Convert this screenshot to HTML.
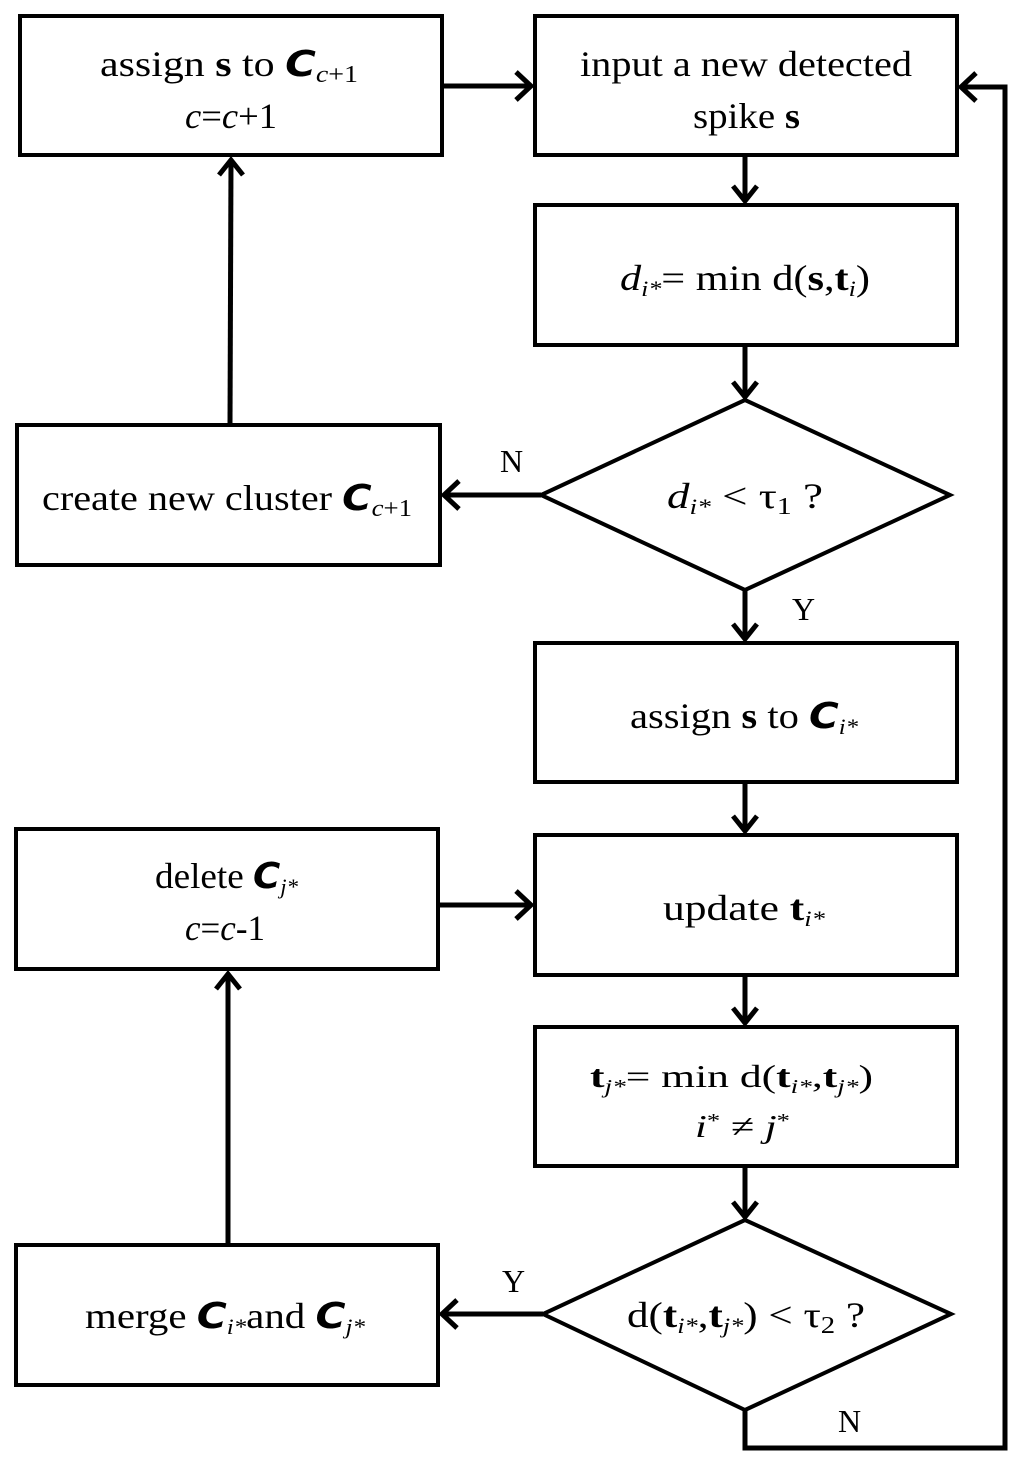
<!DOCTYPE html>
<html><head><meta charset="utf-8"><style>html,body{margin:0;padding:0;background:#fff}svg{display:block}</style></head><body>
<svg width="1024" height="1468" viewBox="0 0 1024 1468" xmlns="http://www.w3.org/2000/svg" font-family="Liberation Serif, serif" font-size="36" fill="#000">
<defs>
<marker id="ah" markerWidth="12" markerHeight="12" refX="10" refY="6" orient="auto" markerUnits="userSpaceOnUse" viewBox="0 0 12 12">
</marker>
</defs>
<g fill="#fff" stroke="#000" stroke-width="4">
<rect x="20" y="16" width="422" height="139"/>
<rect x="535" y="16" width="422" height="139"/>
<rect x="535" y="205" width="422" height="140"/>
<polygon points="745,400 950,495 745,590 541,495"/>
<rect x="17" y="425" width="423" height="140"/>
<rect x="535" y="643" width="422" height="139"/>
<rect x="535" y="835" width="422" height="140"/>
<rect x="16" y="829" width="422" height="140"/>
<rect x="535" y="1027" width="422" height="139"/>
<polygon points="745,1220 951,1314 745,1410 543,1314"/>
<rect x="16" y="1245" width="422" height="140"/>
</g>
<g stroke="#000" stroke-width="5" fill="none" stroke-linejoin="miter">
<!-- A -> B -->
<line x1="442" y1="86" x2="530" y2="86"/><polyline points="516,72 531,86 516,100"/>
<!-- B -> C -->
<line x1="745" y1="155" x2="745" y2="200"/><polyline points="733,186 745,201 757,186"/>
<!-- C -> D1 -->
<line x1="745" y1="345" x2="745" y2="396"/><polyline points="733,382 745,397 757,382"/>
<!-- D1 -> create -->
<line x1="541" y1="495" x2="445" y2="495"/><polyline points="459,481 444,495 459,509"/>
<!-- create -> A -->
<line x1="230" y1="425" x2="231" y2="160"/><polyline points="219,175 231,160 243,175"/>
<!-- D1 -> E -->
<line x1="745" y1="590" x2="745" y2="638"/><polyline points="733,624 745,639 757,624"/>
<!-- E -> F -->
<line x1="745" y1="782" x2="745" y2="830"/><polyline points="733,816 745,831 757,816"/>
<!-- G -> F -->
<line x1="438" y1="905" x2="530" y2="905"/><polyline points="516,891 531,905 516,919"/>
<!-- F -> H -->
<line x1="745" y1="975" x2="745" y2="1022"/><polyline points="733,1008 745,1023 757,1008"/>
<!-- H -> D2 -->
<line x1="745" y1="1166" x2="745" y2="1216"/><polyline points="733,1202 745,1217 757,1202"/>
<!-- D2 -> merge -->
<line x1="543" y1="1314" x2="443" y2="1314"/><polyline points="457,1300 442,1314 457,1328"/>
<!-- merge -> G -->
<line x1="228" y1="1245" x2="228" y2="974"/><polyline points="216,989 228,974 240,989"/>
<!-- feedback -->
<polyline points="745,1410 745,1448 1005,1448 1005,87 962,87"/><polyline points="976,73 961,87 976,101"/>
</g>
<g text-anchor="start">
<text x="100" y="76" textLength="258" lengthAdjust="spacingAndGlyphs">assign <tspan font-weight="bold">s</tspan> to <tspan font-style="italic" font-weight="bold" font-family="DejaVu Sans, sans-serif">C</tspan><tspan font-size="24" dy="6" font-style="italic">c</tspan><tspan font-size="24">+1</tspan></text>
<text x="185" y="128" textLength="92" lengthAdjust="spacingAndGlyphs"><tspan font-style="italic">c</tspan>=<tspan font-style="italic">c</tspan>+1</text>
<text x="580" y="76" textLength="332" lengthAdjust="spacingAndGlyphs">input a  new detected</text>
<text x="693" y="128" textLength="107" lengthAdjust="spacingAndGlyphs">spike <tspan font-weight="bold">s</tspan></text>
<text x="620" y="290" textLength="250" lengthAdjust="spacingAndGlyphs"><tspan font-style="italic">d</tspan><tspan font-size="22" dy="6" font-style="italic">i*</tspan><tspan dy="-6">= min d(</tspan><tspan font-weight="bold">s</tspan>,<tspan font-weight="bold">t</tspan><tspan font-size="22" dy="6" font-style="italic">i</tspan><tspan dy="-6">)</tspan></text>
<text x="667" y="508" textLength="156" lengthAdjust="spacingAndGlyphs"><tspan font-style="italic">d</tspan><tspan font-size="22" dy="6" font-style="italic">i*</tspan><tspan dy="-6"> &lt; τ</tspan><tspan font-size="24" dy="6">1</tspan><tspan dy="-6"> ?</tspan></text>
<text x="500" y="472" font-size="32">N</text>
<text x="792" y="620" font-size="32">Y</text>
<text x="42" y="510" textLength="370" lengthAdjust="spacingAndGlyphs">create new cluster <tspan font-style="italic" font-weight="bold" font-family="DejaVu Sans, sans-serif">C</tspan><tspan font-size="24" dy="6" font-style="italic">c</tspan><tspan font-size="24">+1</tspan></text>
<text x="630" y="728" textLength="228" lengthAdjust="spacingAndGlyphs">assign <tspan font-weight="bold">s</tspan> to <tspan font-style="italic" font-weight="bold" font-family="DejaVu Sans, sans-serif">C</tspan><tspan font-size="22" dy="6" font-style="italic">i*</tspan></text>
<text x="155" y="888" textLength="143" lengthAdjust="spacingAndGlyphs">delete <tspan font-style="italic" font-weight="bold" font-family="DejaVu Sans, sans-serif">C</tspan><tspan font-size="22" dy="6" font-style="italic">j*</tspan></text>
<text x="185" y="940" textLength="80" lengthAdjust="spacingAndGlyphs"><tspan font-style="italic">c</tspan>=<tspan font-style="italic">c</tspan>-1</text>
<text x="663" y="920" textLength="162" lengthAdjust="spacingAndGlyphs">update  <tspan font-weight="bold">t</tspan><tspan font-size="22" dy="6" font-style="italic">i*</tspan></text>
<text x="590" y="1087" font-size="32" textLength="283" lengthAdjust="spacingAndGlyphs"><tspan font-weight="bold">t</tspan><tspan font-size="20" dy="6" font-style="italic">j*</tspan><tspan dy="-6">= min d(</tspan><tspan font-weight="bold">t</tspan><tspan font-size="20" dy="6" font-style="italic">i*</tspan><tspan dy="-6">,</tspan><tspan font-weight="bold">t</tspan><tspan font-size="20" dy="6" font-style="italic">j*</tspan><tspan dy="-6">)</tspan></text>
<text x="695" y="1137" font-size="32" textLength="95" lengthAdjust="spacingAndGlyphs"><tspan font-style="italic">i</tspan><tspan font-size="20" dy="-10">*</tspan><tspan dy="10"> ≠ </tspan><tspan font-style="italic">j</tspan><tspan font-size="20" dy="-10">*</tspan></text>
<text x="627" y="1327" textLength="238" lengthAdjust="spacingAndGlyphs">d(<tspan font-weight="bold">t</tspan><tspan font-size="22" dy="6" font-style="italic">i*</tspan><tspan dy="-6">,</tspan><tspan font-weight="bold">t</tspan><tspan font-size="22" dy="6" font-style="italic">j*</tspan><tspan dy="-6">) &lt; τ</tspan><tspan font-size="24" dy="6">2</tspan><tspan dy="-6"> ?</tspan></text>
<text x="502" y="1292" font-size="32">Y</text>
<text x="838" y="1432" font-size="32">N</text>
<text x="85" y="1328" textLength="280" lengthAdjust="spacingAndGlyphs">merge <tspan font-style="italic" font-weight="bold" font-family="DejaVu Sans, sans-serif">C</tspan><tspan font-size="22" dy="6" font-style="italic">i*</tspan><tspan dy="-6">and </tspan><tspan font-style="italic" font-weight="bold" font-family="DejaVu Sans, sans-serif">C</tspan><tspan font-size="22" dy="6" font-style="italic">j*</tspan></text>
</g>
</svg>
</body></html>
